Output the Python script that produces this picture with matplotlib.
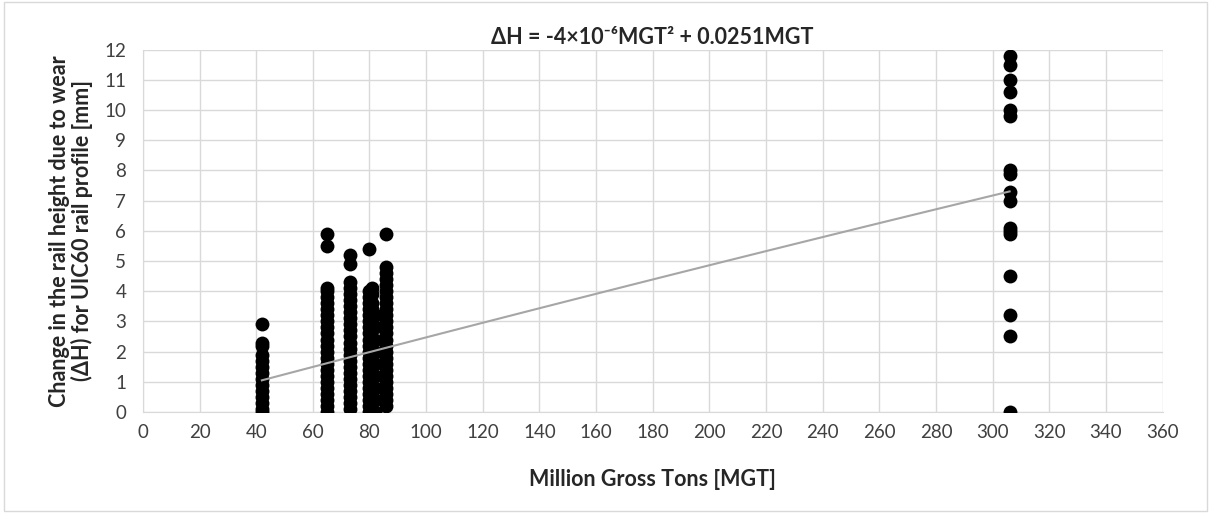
import numpy as np
import matplotlib.pyplot as plt

plt.rcParams['font.family'] = ['Lato', 'DejaVu Sans']

# measured wear data, grouped by MGT column
mgt_42 = [0.0, 0.1, 0.3, 0.5, 0.7, 0.9, 1.1, 1.3, 1.5, 1.7, 1.9, 2.2, 2.3, 2.9]
mgt_65 = [0.0, 0.2, 0.4, 0.6, 0.8, 1.0, 1.2, 1.4, 1.6, 1.8, 2.0, 2.2, 2.4,
          2.6, 2.8, 3.0, 3.2, 3.4, 3.6, 3.8, 4.0, 4.1, 5.5, 5.9]
mgt_73 = [0.1, 0.3, 0.5, 0.7, 0.9, 1.1, 1.3, 1.5, 1.7, 1.9, 2.1, 2.3, 2.5,
          2.7, 2.9, 3.1, 3.3, 3.5, 3.7, 3.9, 4.1, 4.3, 4.9, 5.2]
mgt_80 = [0.0, 0.2, 0.4, 0.6, 0.8, 1.0, 1.2, 1.4, 1.6, 1.8, 2.0, 2.2, 2.4,
          2.6, 2.8, 3.0, 3.2, 3.4, 3.6, 3.8, 4.0, 5.4]
mgt_81 = [0.0, 0.3, 0.6, 0.9, 1.2, 1.5, 1.8, 2.1, 2.4, 2.7, 3.0, 3.3, 3.4,
          3.6, 3.9, 4.1]
mgt_82 = [0.0, 0.4, 0.8, 1.2, 1.6, 2.0, 2.4, 2.8, 3.2]
mgt_86 = [0.2, 0.4, 0.6, 0.8, 1.0, 1.2, 1.4, 1.6, 1.8, 2.0, 2.2, 2.4, 2.6,
          2.8, 3.0, 3.2, 3.4, 3.6, 3.8, 4.0, 4.2, 4.4, 4.6, 4.8, 5.9]
mgt_306 = [0.0, 2.5, 3.2, 4.5, 5.9, 6.0, 6.1, 7.0, 7.3, 7.9, 8.0, 9.8,
           10.0, 10.6, 11.0, 11.5, 11.8]

columns = {42: mgt_42, 65: mgt_65, 73: mgt_73, 80: mgt_80,
           81: mgt_81, 82: mgt_82, 86: mgt_86, 306: mgt_306}

# fitted trend: dH = a*MGT^2 + b*MGT
coef_a = -4e-6
coef_b = 0.0251
trend_x = np.linspace(42, 306, 100)
trend_y = coef_a * trend_x**2 + coef_b * trend_x

fig = plt.figure(figsize=(12.11, 5.13), dpi=100)
ax = fig.add_axes([0.118, 0.197, 0.842, 0.706])

for x, ys in columns.items():
    ax.scatter([x] * len(ys), ys, s=100, color='black', zorder=3,
               linewidths=0)

ax.plot(trend_x, trend_y, color='#a6a6a6', lw=1.5, zorder=4)

ax.set_xlim(0, 360)
ax.set_ylim(0, 12)
ax.set_xticks(range(0, 361, 20))
ax.set_yticks(range(0, 13))
ax.grid(True, color='#d9d9d9', lw=1)
ax.set_axisbelow(True)
for side in ['top', 'right']:
    ax.spines[side].set_visible(False)
ax.spines['left'].set_color('#d9d9d9')
ax.spines['bottom'].set_color('#d9d9d9')
ax.tick_params(length=0, labelsize=13.5, colors='#404040', pad=9)
ax.tick_params(axis='y', pad=12)

ax.set_xlabel('Million Gross Tons [MGT]', fontsize=15.5, fontweight='bold',
              color='#262626', labelpad=20)
ax.set_ylabel('Change in the rail height due to wear\n(ΔH) for UIC60 rail profile [mm]',
              fontsize=15.5, fontweight='bold', color='#262626', labelpad=8,
              linespacing=1.05)
ax.set_title('ΔH = -4×10⁻⁶MGT² + 0.0251MGT', fontsize=15.5,
             fontweight='bold', color='#262626', pad=4)

# light frame round the chart area
fig.patches.append(plt.Rectangle((0.003, 0.003), 0.994, 0.994,
                                 transform=fig.transFigure, fill=False,
                                 edgecolor='#d9d9d9', lw=1))

fig.savefig('out.png', dpi=100)
